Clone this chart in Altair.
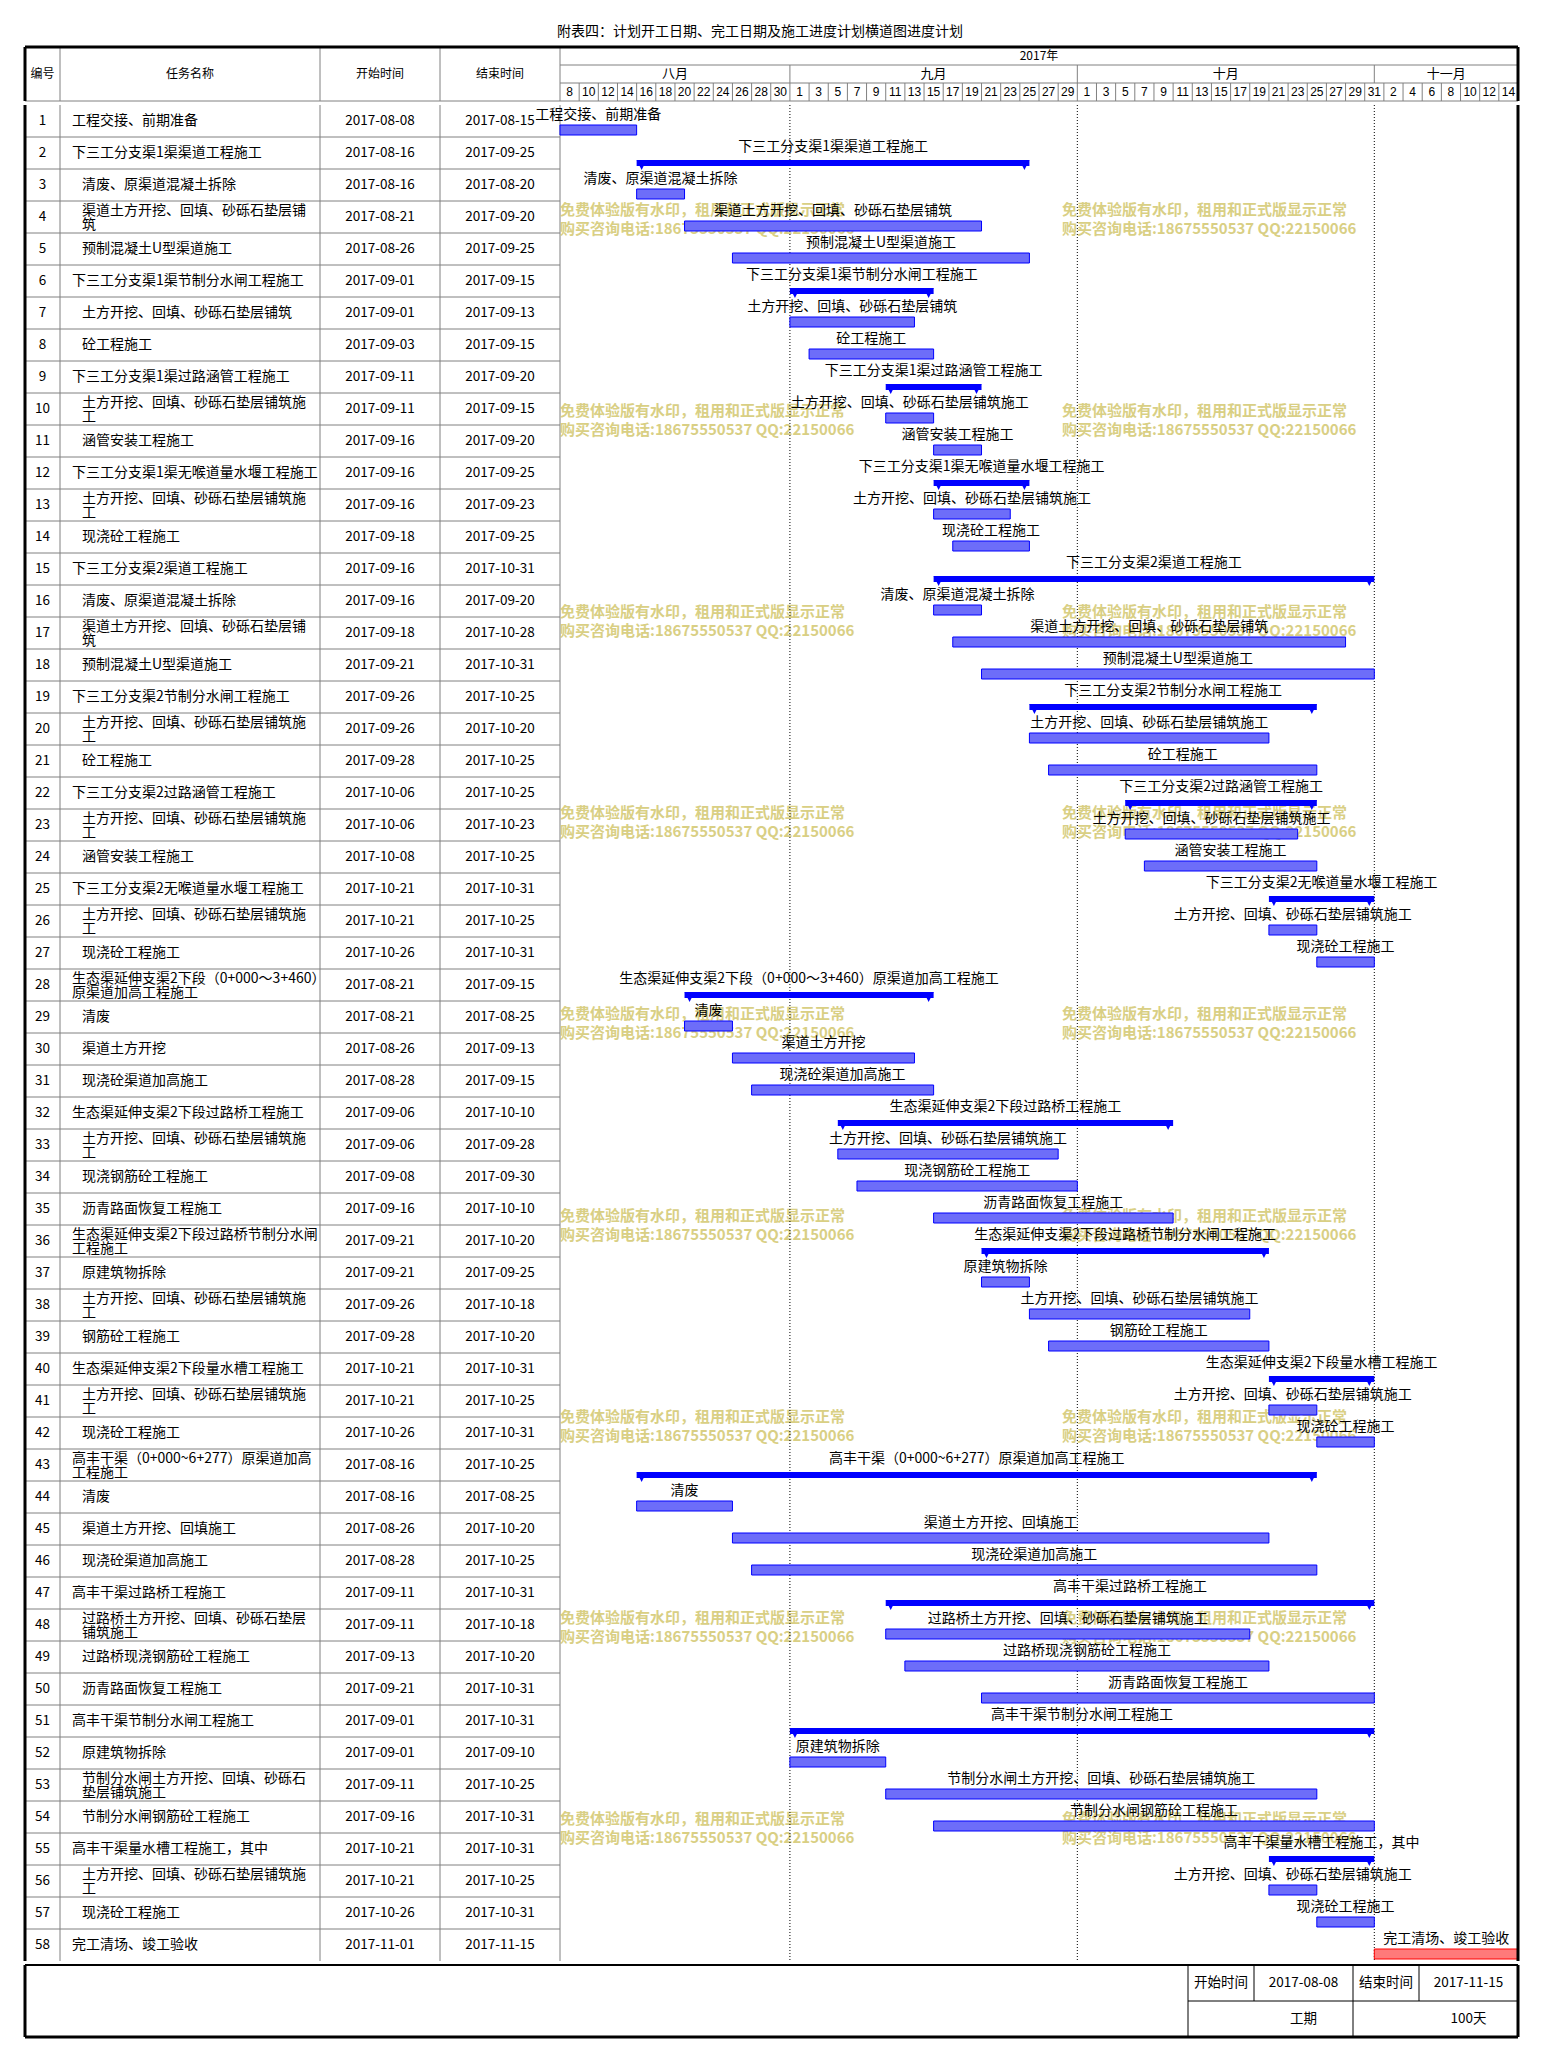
import altair as alt
import pandas as pd

FONT = "Noto Sans CJK SC"
NARROW = "Liberation Sans Narrow, Liberation Sans, DejaVu Sans Condensed, sans-serif"

# ---------------- data ----------------
TITLE = "附表四：计划开工日期、完工日期及施工进度计划横道图进度计划"
HEADERS = ["编号", "任务名称", "开始时间", "结束时间"]
YEAR_LABEL = "2017年"
MONTH_NAMES = ["八月", "九月", "十月", "十一月"]
MONTH_STARTS = ["2017-08-08", "2017-09-01", "2017-10-01", "2017-11-01"]
TIMELINE_START = "2017-08-08"
TIMELINE_END = "2017-11-16"  # exclusive
DAY_LABELS = [8, 10, 12, 14, 16, 18, 20, 22, 24, 26, 28, 30,
              1, 3, 5, 7, 9, 11, 13, 15, 17, 19, 21, 23, 25, 27, 29,
              1, 3, 5, 7, 9, 11, 13, 15, 17, 19, 21, 23, 25, 27, 29, 31,
              2, 4, 6, 8, 10, 12, 14]

task_names = [
    "工程交接、前期准备",
    "下三工分支渠1渠渠道工程施工",
    "清废、原渠道混凝土拆除",
    "渠道土方开挖、回填、砂砾石垫层铺\n筑",
    "预制混凝土U型渠道施工",
    "下三工分支渠1渠节制分水闸工程施工",
    "土方开挖、回填、砂砾石垫层铺筑",
    "砼工程施工",
    "下三工分支渠1渠过路涵管工程施工",
    "土方开挖、回填、砂砾石垫层铺筑施\n工",
    "涵管安装工程施工",
    "下三工分支渠1渠无喉道量水堰工程施工",
    "土方开挖、回填、砂砾石垫层铺筑施\n工",
    "现浇砼工程施工",
    "下三工分支渠2渠道工程施工",
    "清废、原渠道混凝土拆除",
    "渠道土方开挖、回填、砂砾石垫层铺\n筑",
    "预制混凝土U型渠道施工",
    "下三工分支渠2节制分水闸工程施工",
    "土方开挖、回填、砂砾石垫层铺筑施\n工",
    "砼工程施工",
    "下三工分支渠2过路涵管工程施工",
    "土方开挖、回填、砂砾石垫层铺筑施\n工",
    "涵管安装工程施工",
    "下三工分支渠2无喉道量水堰工程施工",
    "土方开挖、回填、砂砾石垫层铺筑施\n工",
    "现浇砼工程施工",
    "生态渠延伸支渠2下段（0+000～3+460）\n原渠道加高工程施工",
    "清废",
    "渠道土方开挖",
    "现浇砼渠道加高施工",
    "生态渠延伸支渠2下段过路桥工程施工",
    "土方开挖、回填、砂砾石垫层铺筑施\n工",
    "现浇钢筋砼工程施工",
    "沥青路面恢复工程施工",
    "生态渠延伸支渠2下段过路桥节制分水闸\n工程施工",
    "原建筑物拆除",
    "土方开挖、回填、砂砾石垫层铺筑施\n工",
    "钢筋砼工程施工",
    "生态渠延伸支渠2下段量水槽工程施工",
    "土方开挖、回填、砂砾石垫层铺筑施\n工",
    "现浇砼工程施工",
    "高丰干渠（0+000~6+277）原渠道加高\n工程施工",
    "清废",
    "渠道土方开挖、回填施工",
    "现浇砼渠道加高施工",
    "高丰干渠过路桥工程施工",
    "过路桥土方开挖、回填、砂砾石垫层\n铺筑施工",
    "过路桥现浇钢筋砼工程施工",
    "沥青路面恢复工程施工",
    "高丰干渠节制分水闸工程施工",
    "原建筑物拆除",
    "节制分水闸土方开挖、回填、砂砾石\n垫层铺筑施工",
    "节制分水闸钢筋砼工程施工",
    "高丰干渠量水槽工程施工，其中",
    "土方开挖、回填、砂砾石垫层铺筑施\n工",
    "现浇砼工程施工",
    "完工清场、竣工验收",
]

task_starts = [
    "2017-08-08", "2017-08-16", "2017-08-16", "2017-08-21", "2017-08-26",
    "2017-09-01", "2017-09-01", "2017-09-03", "2017-09-11", "2017-09-11",
    "2017-09-16", "2017-09-16", "2017-09-16", "2017-09-18", "2017-09-16",
    "2017-09-16", "2017-09-18", "2017-09-21", "2017-09-26", "2017-09-26",
    "2017-09-28", "2017-10-06", "2017-10-06", "2017-10-08", "2017-10-21",
    "2017-10-21", "2017-10-26", "2017-08-21", "2017-08-21", "2017-08-26",
    "2017-08-28", "2017-09-06", "2017-09-06", "2017-09-08", "2017-09-16",
    "2017-09-21", "2017-09-21", "2017-09-26", "2017-09-28", "2017-10-21",
    "2017-10-21", "2017-10-26", "2017-08-16", "2017-08-16", "2017-08-26",
    "2017-08-28", "2017-09-11", "2017-09-11", "2017-09-13", "2017-09-21",
    "2017-09-01", "2017-09-01", "2017-09-11", "2017-09-16", "2017-10-21",
    "2017-10-21", "2017-10-26", "2017-11-01",
]

task_ends = [
    "2017-08-15", "2017-09-25", "2017-08-20", "2017-09-20", "2017-09-25",
    "2017-09-15", "2017-09-13", "2017-09-15", "2017-09-20", "2017-09-15",
    "2017-09-20", "2017-09-25", "2017-09-23", "2017-09-25", "2017-10-31",
    "2017-09-20", "2017-10-28", "2017-10-31", "2017-10-25", "2017-10-20",
    "2017-10-25", "2017-10-25", "2017-10-23", "2017-10-25", "2017-10-31",
    "2017-10-25", "2017-10-31", "2017-09-15", "2017-08-25", "2017-09-13",
    "2017-09-15", "2017-10-10", "2017-09-28", "2017-09-30", "2017-10-10",
    "2017-10-20", "2017-09-25", "2017-10-18", "2017-10-20", "2017-10-31",
    "2017-10-25", "2017-10-31", "2017-10-25", "2017-08-25", "2017-10-20",
    "2017-10-25", "2017-10-31", "2017-10-18", "2017-10-20", "2017-10-31",
    "2017-10-31", "2017-09-10", "2017-10-25", "2017-10-31", "2017-10-31",
    "2017-10-25", "2017-10-31", "2017-11-15",
]

GROUP_ROWS = [2, 6, 9, 12, 15, 19, 22, 25, 28, 32, 36, 40, 43, 47, 51, 55]
TOP_LEVEL_TASKS = [1, 58]
FINAL_ROW = 58

SUMMARY_CELLS = ["开始时间", "2017-08-08", "结束时间", "2017-11-15"]
DURATION_CELLS = ["工期", "100天"]
WATERMARK = ["免费体验版有水印，租用和正式版显示正常",
             "购买咨询电话:18675550537 QQ:22150066"]

# ---------------- layout ----------------
N = len(task_names)
ROW_H = 32
LEFT_W = 535
COL_EDGES = [0, 35, 295, 415, 535]
RIGHT_W = 958
TOTAL_W = LEFT_W + RIGHT_W
HEAD_H = 54
BODY_H = N * ROW_H
FOOT_H = 72
TITLE_H = 37
GRID = "#808080"
BLUE = "#0000ff"

t0 = pd.Timestamp(TIMELINE_START)
NDAYS = (pd.Timestamp(TIMELINE_END) - t0).days

df = pd.DataFrame({
    "id": list(range(1, N + 1)),
    "name": task_names,
    "start": task_starts,
    "end": task_ends,
})
df["s"] = (pd.to_datetime(df["start"]) - t0).dt.days
df["e"] = (pd.to_datetime(df["end"]) - t0).dt.days + 1
df["mid"] = (df["s"] + df["e"]) / 2
df["top"] = df["id"] - 1
df["label"] = df["name"].str.replace("\n", "", regex=False)
df["kind"] = ["group" if i in GROUP_ROWS else ("final" if i == FINAL_ROW else "task") for i in df["id"]]
df["level"] = [0 if (i in GROUP_ROWS or i in TOP_LEVEL_TASKS) else 1 for i in df["id"]]
df["ylab"] = df["top"] + 10 / ROW_H
df["ymid"] = df["top"] + 0.5
df["bt"] = df["top"] + 20 / ROW_H
df["bb"] = df["top"] + 30 / ROW_H
df["gt"] = df["top"] + 23 / ROW_H
df["gb"] = df["top"] + 29 / ROW_H
df["tri"] = df["top"] + 28 / ROW_H

one = pd.DataFrame({"a": [0]})

yb = alt.Scale(domain=[0, N], reverse=True, nice=False, zero=False)
xd = alt.Scale(domain=[0, NDAYS], nice=False, zero=False)
xl = alt.Scale(domain=[0, LEFT_W], nice=False, zero=False)
yh = alt.Scale(domain=[0, 3], reverse=True, nice=False, zero=False)


def frame(x=None, x2=None, y=None, y2=None, w=3, color="black"):
    enc = {}
    if x is not None:
        enc["x"] = alt.value(x)
    if x2 is not None:
        enc["x2"] = alt.value(x2)
    if y is not None:
        enc["y"] = alt.value(y)
    if y2 is not None:
        enc["y2"] = alt.value(y2)
    return alt.Chart(one).mark_rule(color=color, strokeWidth=w).encode(**enc)


# ---------------- title ----------------
title_chart = alt.Chart(pd.DataFrame({"t": [TITLE]})).mark_text(
    font=FONT, fontSize=14, align="center", baseline="middle", color="black"
).encode(x=alt.value(735), y=alt.value(24), text="t:N").properties(width=TOTAL_W, height=TITLE_H)

# ---------------- header left ----------------
hl_text = pd.DataFrame({
    "t": HEADERS,
    "x": [(COL_EDGES[i] + COL_EDGES[i + 1]) / 2 for i in range(4)],
    "y": [1.5] * 4,
})
head_left = alt.layer(
    alt.Chart(pd.DataFrame({"c": COL_EDGES[1:]})).mark_rule(color=GRID, strokeWidth=1).encode(
        x=alt.X("c:Q", scale=xl, axis=None), y=alt.value(0), y2=alt.value(HEAD_H)),
    alt.Chart(pd.DataFrame({"b": [3]})).mark_rule(color=GRID, strokeWidth=1).encode(
        y=alt.Y("b:Q", scale=yh, axis=None), x=alt.value(0), x2=alt.value(LEFT_W)),
    alt.Chart(hl_text).mark_text(font=FONT, fontSize=12, color="black").encode(
        x=alt.X("x:Q", scale=xl, axis=None), y=alt.Y("y:Q", scale=yh, axis=None), text="t:N"),
    frame(x=0, x2=LEFT_W, y=0),
    frame(x=0, y=0, y2=HEAD_H),
).properties(width=LEFT_W, height=HEAD_H)

# ---------------- header right ----------------
ms = [(pd.Timestamp(d) - t0).days for d in MONTH_STARTS]
me = ms[1:] + [NDAYS]
months = pd.DataFrame({"t": MONTH_NAMES, "ms": ms, "me": me})
months["mid"] = (months["ms"] + months["me"]) / 2
months["y"] = 1.5
days = pd.DataFrame({"t": [str(d) for d in DAY_LABELS]})
days["k"] = range(len(days))
days["x"] = days["k"] * 2 + 1
days["y"] = 2.5
day_lines = pd.DataFrame({"c": [2 * k for k in range(1, len(DAY_LABELS))]})
day_lines["y1"] = 2
day_lines["y2"] = 3
mon_lines = pd.DataFrame({"c": ms[1:]})
mon_lines["y1"] = 1
mon_lines["y2"] = 2

head_right = alt.layer(
    alt.Chart(pd.DataFrame({"b": [1, 2, 3]})).mark_rule(color=GRID, strokeWidth=1).encode(
        y=alt.Y("b:Q", scale=yh, axis=None), x=alt.value(0), x2=alt.value(RIGHT_W)),
    alt.Chart(mon_lines).mark_rule(color=GRID, strokeWidth=1).encode(
        x=alt.X("c:Q", scale=xd, axis=None), y=alt.Y("y1:Q", scale=yh, axis=None), y2="y2:Q"),
    alt.Chart(day_lines).mark_rule(color=GRID, strokeWidth=1).encode(
        x=alt.X("c:Q", scale=xd, axis=None), y=alt.Y("y1:Q", scale=yh, axis=None), y2="y2:Q"),
    alt.Chart(pd.DataFrame({"t": [YEAR_LABEL], "x": [NDAYS / 2], "y": [0.5]})).mark_text(
        font=FONT, fontSize=12, color="black").encode(
        x=alt.X("x:Q", scale=xd, axis=None), y=alt.Y("y:Q", scale=yh, axis=None), text="t:N"),
    alt.Chart(months).mark_text(font=FONT, fontSize=13, color="black").encode(
        x=alt.X("mid:Q", scale=xd, axis=None), y=alt.Y("y:Q", scale=yh, axis=None), text="t:N"),
    alt.Chart(days).mark_text(font=NARROW, fontSize=12, color="black").encode(
        x=alt.X("x:Q", scale=xd, axis=None), y=alt.Y("y:Q", scale=yh, axis=None), text="t:N"),
    frame(x=0, x2=RIGHT_W, y=0),
    frame(x=RIGHT_W, y=0, y2=HEAD_H),
).properties(width=RIGHT_W, height=HEAD_H)

# ---------------- body left ----------------
name_rows = []
for r in df.itertuples():
    lines = r.name.split("\n")
    x = 47 if r.level == 0 else 57
    if len(lines) == 1:
        name_rows.append({"x": x, "y": r.top + 0.5, "t": lines[0]})
    else:
        name_rows.append({"x": x, "y": r.top + 10 / ROW_H, "t": lines[0]})
        name_rows.append({"x": x, "y": r.top + 23.5 / ROW_H, "t": lines[1]})
names_df = pd.DataFrame(name_rows)

cells = []
for r in df.itertuples():
    cells.append({"x": (COL_EDGES[0] + COL_EDGES[1]) / 2, "y": r.ymid, "t": str(r.id)})
    cells.append({"x": (COL_EDGES[2] + COL_EDGES[3]) / 2, "y": r.ymid, "t": r.start})
    cells.append({"x": (COL_EDGES[3] + COL_EDGES[4]) / 2, "y": r.ymid, "t": r.end})
cells_df = pd.DataFrame(cells)

body_left = alt.layer(
    alt.Chart(pd.DataFrame({"b": list(range(1, N))})).mark_rule(color=GRID, strokeWidth=1).encode(
        y=alt.Y("b:Q", scale=yb, axis=None), x=alt.value(0), x2=alt.value(LEFT_W)),
    alt.Chart(pd.DataFrame({"c": COL_EDGES[1:]})).mark_rule(color=GRID, strokeWidth=1).encode(
        x=alt.X("c:Q", scale=xl, axis=None), y=alt.value(0), y2=alt.value(BODY_H)),
    alt.Chart(cells_df).mark_text(font=FONT, fontSize=13.5, color="black").encode(
        x=alt.X("x:Q", scale=xl, axis=None), y=alt.Y("y:Q", scale=yb, axis=None), text="t:N"),
    alt.Chart(names_df).mark_text(font=FONT, fontSize=14, color="black", align="left").encode(
        x=alt.X("x:Q", scale=xl, axis=None), y=alt.Y("y:Q", scale=yb, axis=None), text="t:N"),
    frame(x=0, y=0, y2=BODY_H),
).properties(width=LEFT_W, height=BODY_H)

# ---------------- body right ----------------
wm_rows = []
for k in range(9):
    for j, line in enumerate(WATERMARK):
        ypx = 105 + 19 * j + 201.1 * k
        for xo in (0, 52.4):
            wm_rows.append({"x": xo, "y": ypx / ROW_H, "t": line})
wm_df = pd.DataFrame(wm_rows)

tasks = df[df["kind"] == "task"]
groups = df[df["kind"] == "group"]
final = df[df["kind"] == "final"]
TRI = "M-1,-1L1,-1L0,1Z"

body_right = alt.layer(
    alt.Chart(wm_df).mark_text(font=FONT, fontSize=15, fontWeight="bold", color="#d9cf84",
                               align="left", baseline="middle").encode(
        x=alt.X("x:Q", scale=xd, axis=None), y=alt.Y("y:Q", scale=yb, axis=None), text="t:N"),
    alt.Chart(pd.DataFrame({"c": ms[1:]})).mark_rule(color="black", strokeWidth=1, strokeDash=[1, 2]).encode(
        x=alt.X("c:Q", scale=xd, axis=None), y=alt.value(0), y2=alt.value(BODY_H)),
    alt.Chart(tasks).mark_rect(fill="#6d6df9", stroke=BLUE, strokeWidth=1).encode(
        x=alt.X("s:Q", scale=xd, axis=None), x2="e:Q",
        y=alt.Y("bt:Q", scale=yb, axis=None), y2="bb:Q"),
    alt.Chart(final).mark_rect(fill="#ff7a7a", stroke="#ff0000", strokeWidth=1).encode(
        x=alt.X("s:Q", scale=xd, axis=None), x2="e:Q",
        y=alt.Y("bt:Q", scale=yb, axis=None), y2="bb:Q"),
    alt.Chart(groups).mark_rect(fill=BLUE).encode(
        x=alt.X("s:Q", scale=xd, axis=None), x2="e:Q",
        y=alt.Y("gt:Q", scale=yb, axis=None), y2="gb:Q"),
    alt.Chart(groups).mark_point(shape=TRI, filled=True, size=100, color=BLUE, opacity=1, xOffset=5).encode(
        x=alt.X("s:Q", scale=xd, axis=None), y=alt.Y("tri:Q", scale=yb, axis=None)),
    alt.Chart(groups).mark_point(shape=TRI, filled=True, size=100, color=BLUE, opacity=1, xOffset=-5).encode(
        x=alt.X("e:Q", scale=xd, axis=None), y=alt.Y("tri:Q", scale=yb, axis=None)),
    alt.Chart(df).mark_text(font=FONT, fontSize=14, color="black", align="center", baseline="middle").encode(
        x=alt.X("mid:Q", scale=xd, axis=None), y=alt.Y("ylab:Q", scale=yb, axis=None), text="label:N"),
    frame(x=RIGHT_W, y=0, y2=BODY_H),
).properties(width=RIGHT_W, height=BODY_H)

# ---------------- footer ----------------
FX = [1163, 1229, 1328, 1394, TOTAL_W]
xf = alt.Scale(domain=[0, TOTAL_W], nice=False, zero=False)
yf = alt.Scale(domain=[0, 2], reverse=True, nice=False, zero=False)
foot_text = pd.DataFrame({
    "t": SUMMARY_CELLS + DURATION_CELLS,
    "x": [(FX[i] + FX[i + 1]) / 2 for i in range(4)] + [(FX[1] + FX[2]) / 2, (FX[3] + FX[4]) / 2],
    "y": [0.5] * 4 + [1.5] * 2,
})
fv = pd.DataFrame({"c": FX[:4], "y1": [0, 0, 0, 0], "y2": [2, 1, 2, 1]})
footer = alt.layer(
    alt.Chart(fv).mark_rule(color="black", strokeWidth=1).encode(
        x=alt.X("c:Q", scale=xf, axis=None), y=alt.Y("y1:Q", scale=yf, axis=None), y2="y2:Q"),
    alt.Chart(pd.DataFrame({"b": [1], "x1": [FX[0]], "x2": [TOTAL_W]})).mark_rule(color="black", strokeWidth=1).encode(
        y=alt.Y("b:Q", scale=yf, axis=None), x=alt.X("x1:Q", scale=xf, axis=None), x2="x2:Q"),
    alt.Chart(foot_text).mark_text(font=FONT, fontSize=13.5, color="black").encode(
        x=alt.X("x:Q", scale=xf, axis=None), y=alt.Y("y:Q", scale=yf, axis=None), text="t:N"),
    frame(x=0, x2=TOTAL_W, y=0, w=2),
    frame(x=0, y=0, y2=FOOT_H),
    frame(x=TOTAL_W, y=0, y2=FOOT_H),
    frame(x=0, x2=TOTAL_W, y=FOOT_H),
).properties(width=TOTAL_W, height=FOOT_H)

chart = alt.vconcat(
    title_chart,
    alt.hconcat(head_left, head_right, spacing=0, bounds="flush"),
    alt.hconcat(body_left, body_right, spacing=0, bounds="flush"),
    footer,
    spacing=0,
).properties(
    padding={"left": 15, "top": 0, "right": 10, "bottom": 10}
).configure_view(stroke=None).configure_text(font=FONT)

chart.save("out.html", embed_options={"renderer": "svg", "actions": False})
